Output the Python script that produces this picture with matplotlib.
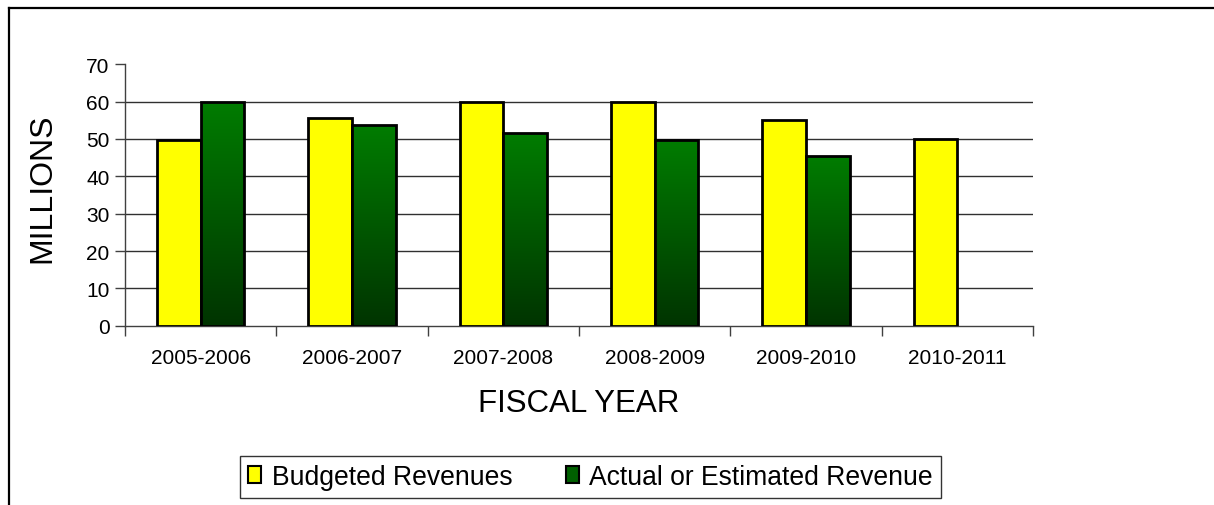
import numpy as np
import matplotlib
matplotlib.use("Agg")
import matplotlib.pyplot as plt
from matplotlib.lines import Line2D
from matplotlib.patches import Patch
from matplotlib.colors import LinearSegmentedColormap

plt.rcParams['font.family'] = ['Liberation Sans', 'DejaVu Sans']

# Revenue by fiscal year, in millions
fiscal_years = ['2005-2006', '2006-2007', '2007-2008', '2008-2009', '2009-2010', '2010-2011']
budgeted = [49.6, 55.7, 60.0, 60.0, 55.0, 50.0]
actual = [60.0, 53.7, 51.5, 49.8, 45.4, np.nan]
series_names = ['Budgeted Revenues', 'Actual or Estimated Revenue']

W, H = 1214, 506
fig = plt.figure(figsize=(W / 100, H / 100), dpi=100)
ax = fig.add_axes([125 / W, 1 - 326.7 / H, (1033 - 125) / W, (326.7 - 65.3) / H])

x = np.arange(len(fiscal_years))
bw = 0.289
edge_lw = 2.0

ax.bar(x - bw / 2, budgeted, width=bw, color='#ffff00', edgecolor='black',
       linewidth=edge_lw, zorder=3)

green_cmap = LinearSegmentedColormap.from_list('greens', ['#003400', '#007c00'])
grad = np.linspace(0, 1, 256).reshape(-1, 1)
for xi, v in zip(x, actual):
    if np.isnan(v):
        continue
    bars = ax.bar(xi + bw / 2, v, width=bw, facecolor='none', edgecolor='black',
                  linewidth=edge_lw, zorder=4)
    rect = bars[0]
    im = ax.imshow(grad, cmap=green_cmap, origin='lower', aspect='auto',
                   extent=(xi, xi + bw, 0, v), zorder=3, interpolation='bilinear')
    im.set_clip_path(rect)

ax.set_xlim(-0.5, len(fiscal_years) - 0.5)
ax.set_ylim(0, 70)
ax.set_yticks(np.arange(0, 71, 10))

ax.set_xticks(x)
ax.set_xticklabels(fiscal_years, fontsize=15)
ax.set_xticks(np.arange(-0.5, len(fiscal_years), 1), minor=True)
ax.tick_params(axis='x', which='major', length=0, pad=16)
ax.tick_params(axis='x', which='minor', length=7, width=1, color='#404040')
ax.tick_params(axis='y', length=7, width=1, color='#404040', labelsize=15, pad=4)

ax.yaxis.grid(True, color='#303030', linewidth=1)
ax.set_axisbelow(True)
ax.yaxis.get_gridlines()[-1].set_visible(False)
ax.yaxis.get_gridlines()[0].set_visible(False)

for s in ['top', 'right']:
    ax.spines[s].set_visible(False)
for s in ['left', 'bottom']:
    ax.spines[s].set_color('#404040')
    ax.spines[s].set_linewidth(1)

ax.set_xlabel('FISCAL YEAR', fontsize=22.5, labelpad=15)
ax.set_ylabel('MILLIONS', fontsize=23, labelpad=21)
ax.yaxis.label.set_y(0.53)

handles = [Patch(facecolor='#ffff00', edgecolor='black', linewidth=1.5),
           Patch(facecolor='#006000', edgecolor='black', linewidth=1.5)]
leg = fig.legend(handles, series_names, loc='center', bbox_to_anchor=(590.5 / W, 1 - 478 / H),
                 ncol=2, fontsize=19.1, frameon=True, fancybox=False, edgecolor='black',
                 handlelength=0.5, handleheight=0.6, handletextpad=0.4, columnspacing=2.0,
                 borderpad=0.3, borderaxespad=0)
leg.get_frame().set_linewidth(1)

# chart frame: left and top border
fig.add_artist(Line2D([9 / W, 9 / W], [0, 1 - 9 / H], transform=fig.transFigure,
                      color='black', linewidth=1.6))
fig.add_artist(Line2D([9 / W, 1], [1 - 9 / H, 1 - 9 / H], transform=fig.transFigure,
                      color='black', linewidth=1.6))

fig.savefig('out.png', dpi=100, facecolor='white')
